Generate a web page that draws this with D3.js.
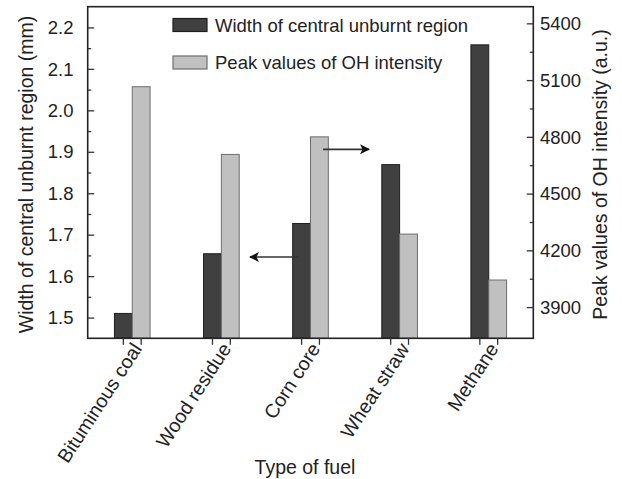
<!DOCTYPE html>
<html>
<head>
<meta charset="utf-8">
<script src="https://cdn.jsdelivr.net/npm/d3@7"></script>
<style>
  html, body { margin: 0; padding: 0; background: #fff; }
  svg { display: block; font-family: "Liberation Sans", Arial, sans-serif; }
</style>
</head>
<body>
<svg id="chart" width="622" height="479"></svg>
<script>
// Fuel types and the two measured quantities
const fuels = ["Bituminous coal", "Wood residue", "Corn core", "Wheat straw", "Methane"];
const unburntWidth = [1.51, 1.654, 1.727, 1.869, 2.158];   // mm, left axis
const ohPeak = [5065, 4707, 4800, 4286, 4043];              // a.u., right axis

const leftTicks = [1.5, 1.6, 1.7, 1.8, 1.9, 2.0, 2.1, 2.2];
const leftMinor = [1.55, 1.65, 1.75, 1.85, 1.95, 2.05, 2.15];
const rightTicks = [3900, 4200, 4500, 4800, 5100, 5400];
const rightMinor = [4050, 4350, 4650, 4950, 5250];

const seriesNames = ["Width of central unburnt region", "Peak values of OH intensity"];

const svg = d3.select("#chart");
const m = { left: 87.7, right: 533.3, top: 6.7, bottom: 338.3 };

const x0 = d3.scaleBand().domain(fuels).range([m.left, m.right]).padding(0);
const barW = x0.bandwidth() * 0.2;
const yL = d3.scaleLinear().domain([1.45, 2.25]).range([m.bottom, m.top]);
const yR = d3.scaleLinear().domain([3735, 5488]).range([m.bottom, m.top]);

const darkFill = "#404040", darkStroke = "#1e1e1e";
const lightFill = "#c0c0c0", lightStroke = "#6e6e6e";

// Bars: dark (left axis) to the left of each category centre, light (right axis) to the right
const g = svg.append("g");
fuels.forEach((f, i) => {
  const c = x0(f) + x0.bandwidth() / 2;
  g.append("rect")
    .attr("x", c - barW).attr("width", barW)
    .attr("y", yL(unburntWidth[i])).attr("height", m.bottom - yL(unburntWidth[i]))
    .attr("fill", darkFill).attr("stroke", darkStroke).attr("stroke-width", 1);
  g.append("rect")
    .attr("x", c).attr("width", barW)
    .attr("y", yR(ohPeak[i])).attr("height", m.bottom - yR(ohPeak[i]))
    .attr("fill", lightFill).attr("stroke", lightStroke).attr("stroke-width", 1);
});

// Frame
svg.append("rect")
  .attr("x", m.left).attr("y", m.top)
  .attr("width", m.right - m.left).attr("height", m.bottom - m.top)
  .attr("fill", "none").attr("stroke", "#222").attr("stroke-width", 1.6);

const tickStroke = "#333";
const styleTicks = a => { a.select(".domain").remove(); a.selectAll("line").attr("stroke", tickStroke).attr("stroke-width", 1.3); };

// Left axis (ticks pointing inward)
svg.append("g").attr("transform", `translate(${m.left},0)`)
  .call(d3.axisRight(yL).tickValues(leftTicks).tickSize(6.5).tickFormat(""))
  .call(styleTicks);
svg.append("g").attr("transform", `translate(${m.left},0)`)
  .call(d3.axisRight(yL).tickValues(leftMinor).tickSize(3.5).tickFormat(""))
  .call(styleTicks);
svg.append("g").selectAll("text").data(leftTicks).join("text")
  .attr("x", 73.5).attr("y", d => yL(d)).attr("dy", "0.36em")
  .attr("text-anchor", "end").attr("font-size", 18.5).attr("fill", "#222")
  .text(d => d3.format(".1f")(d));

// Right axis (ticks pointing inward)
svg.append("g").attr("transform", `translate(${m.right},0)`)
  .call(d3.axisLeft(yR).tickValues(rightTicks).tickSize(6.5).tickFormat(""))
  .call(styleTicks);
svg.append("g").attr("transform", `translate(${m.right},0)`)
  .call(d3.axisLeft(yR).tickValues(rightMinor).tickSize(3.5).tickFormat(""))
  .call(styleTicks);
svg.append("g").selectAll("text").data(rightTicks).join("text")
  .attr("x", 540).attr("y", d => yR(d)).attr("dy", "0.36em")
  .attr("text-anchor", "start").attr("font-size", 18.5).attr("fill", "#222")
  .text(d => d);

// Bottom ticks at each bar centre, pointing outward
const barCentres = [];
fuels.forEach(f => {
  const c = x0(f) + x0.bandwidth() / 2;
  barCentres.push(c - barW / 2, c + barW / 2);
});
svg.append("g").selectAll("line").data(barCentres).join("line")
  .attr("x1", d => d).attr("x2", d => d)
  .attr("y1", m.bottom).attr("y2", m.bottom + 6.5)
  .attr("stroke", tickStroke).attr("stroke-width", 1.3);

// Rotated category labels
svg.append("g").selectAll("text").data(fuels).join("text")
  .attr("transform", d => `translate(${x0(d) + x0.bandwidth() / 2 - 1},${m.bottom + 3}) rotate(-57)`)
  .attr("text-anchor", "end").attr("dy", "0.7em")
  .attr("font-size", 19.5).attr("fill", "#222")
  .text(d => d);

// Axis titles
svg.append("text")
  .attr("transform", `translate(26,${(m.top + m.bottom) / 2 + 2}) rotate(-90)`)
  .attr("text-anchor", "middle").attr("dy", "0.35em")
  .attr("font-size", 19.5).attr("fill", "#222")
  .text("Width of central unburnt region (mm)");
svg.append("text")
  .attr("transform", `translate(600,${(m.top + m.bottom) / 2 + 2}) rotate(-90)`)
  .attr("text-anchor", "middle").attr("dy", "0.35em")
  .attr("font-size", 19.5).attr("fill", "#222")
  .text("Peak values of OH intensity (a.u.)");
svg.append("text")
  .attr("x", 305).attr("y", 467).attr("dy", "0.35em")
  .attr("text-anchor", "middle").attr("font-size", 19.5).attr("fill", "#222")
  .text("Type of fuel");

// Legend
const legend = svg.append("g");
[[darkFill, darkStroke], [lightFill, lightStroke]].forEach(([fill, stroke], i) => {
  const ly = 25 + i * 37.5;
  legend.append("rect")
    .attr("x", 173).attr("y", ly - 6.5).attr("width", 34).attr("height", 13)
    .attr("fill", fill).attr("stroke", stroke).attr("stroke-width", 1.2);
  legend.append("text")
    .attr("x", 215).attr("y", ly).attr("dy", "0.36em")
    .attr("font-size", 18.5).attr("fill", "#222")
    .text(seriesNames[i]);
});

// Arrows indicating which axis each series belongs to
const defs = svg.append("defs");
defs.append("marker")
  .attr("id", "head").attr("viewBox", "0 0 10 10")
  .attr("refX", 9).attr("refY", 5)
  .attr("markerWidth", 10).attr("markerHeight", 10)
  .attr("markerUnits", "userSpaceOnUse")
  .attr("orient", "auto")
  .append("path").attr("d", "M0,0 L10,5 L0,10 L2.5,5 Z").attr("fill", "#111");

const arrows = [
  { fromX: 298, toX: 250, yv: 1.646, axis: yL },
  { fromX: 323, toX: 369, yv: 4734, axis: yR }
];
svg.append("g").selectAll("line").data(arrows).join("line")
  .attr("x1", d => d.fromX).attr("x2", d => d.toX)
  .attr("y1", d => d.axis(d.yv)).attr("y2", d => d.axis(d.yv))
  .attr("stroke", "#333").attr("stroke-width", 1.6)
  .attr("marker-end", "url(#head)");
</script>
</body>
</html>
